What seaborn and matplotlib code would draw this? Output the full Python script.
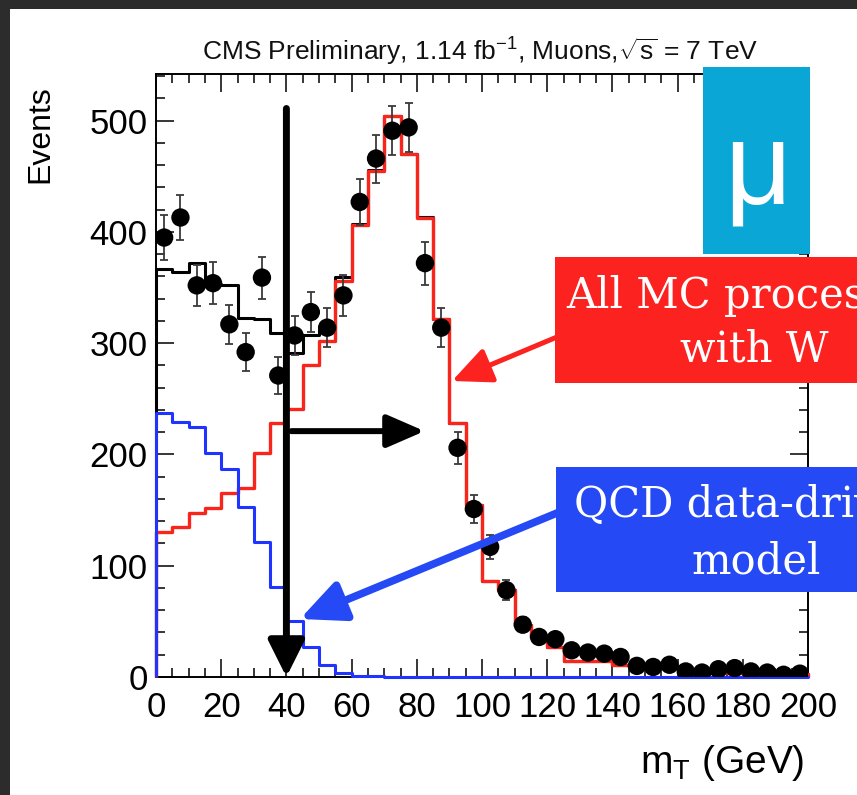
import numpy as np
import pandas as pd
import matplotlib
matplotlib.use("Agg")
import matplotlib.pyplot as plt
import seaborn as sns
from matplotlib.patches import Rectangle, FancyArrowPatch
from matplotlib.ticker import MultipleLocator

# ---- binning: 40 bins of 5 GeV in transverse mass ----
bin_width = 5
mt_range = (0, 200)
bin_centers = np.arange(mt_range[0], mt_range[1], bin_width) + bin_width / 2

# observed muon events per bin
data_events = [395, 413, 352, 354, 317, 292, 359, 271, 307, 328,
               314, 343, 427, 466, 491, 494, 372, 314, 206, 151,
               117, 78, 47, 36, 34, 24, 22, 21, 18, 10,
               9, 11, 5, 4, 7, 8, 5, 4, 2, 3]

# all MC processes with a W
w_mc = [130, 135, 147, 152, 165, 170, 201, 228, 241, 280,
        302, 356, 406, 455, 504, 470, 413, 322, 228, 155,
        86, 78, 47, 36, 27, 14, 14, 14, 11, 10,
        9, 8, 6, 5, 5, 4, 4, 3, 3, 3]

# QCD data-driven model
qcd_model = [237, 229, 225, 201, 187, 153, 121, 81, 50, 27,
             11, 3.5, 1, 0.5, 0.3, 0.2, 0.2, 0.1, 0.1, 0,
             0, 0, 0, 0, 0, 0, 0, 0, 0, 0,
             0, 0, 0, 0, 0, 0, 0, 0, 0, 0]

x_ticks = [0, 20, 40, 60, 80, 100, 120, 140, 160, 180, 200]
y_ticks = [0, 100, 200, 300, 400, 500]

RED = "#f7251c"
BLUE = "#2034ff"
BOX_RED = "#fc2220"
BOX_BLUE = "#2549f5"
BOX_CYAN = "#0aa6d6"
SLIDE = "#2c2c2c"

W, H = 857, 795

sns.set_theme(style="ticks")
plt.rcParams["font.family"] = ["Liberation Sans", "DejaVu Sans"]
plt.rcParams["mathtext.fontset"] = "custom"
plt.rcParams["mathtext.rm"] = "Liberation Sans"
plt.rcParams["mathtext.it"] = "Liberation Sans:italic"
plt.rcParams["mathtext.bf"] = "Liberation Sans:bold"


def px(x, y):
    """pixel position (from top-left) -> figure fraction"""
    return x / W, 1 - y / H


fig = plt.figure(figsize=(W / 100, H / 100), dpi=100, facecolor=SLIDE)

# white slide panel, behind everything else
fig.patches.append(Rectangle(px(10, H), (W - 10) / W, (H - 9) / H,
                             transform=fig.transFigure, facecolor="white",
                             edgecolor="none", zorder=-5))

l, b = px(156, 677)
r, t = px(808, 74)
ax = fig.add_axes([l, b, r - l, t - b])
ax.set_facecolor("white")

mc = np.asarray(w_mc, dtype=float)
qcd = np.asarray(qcd_model, dtype=float)
hists = pd.DataFrame({
    "mt": bin_centers,
    "mc": mc,
    "qcd": qcd,
    "total": mc + qcd,
})
points = pd.DataFrame({"mt": bin_centers, "events": data_events})
points["err"] = np.sqrt(points["events"])


def step_hist(col, color, lw, z):
    sns.histplot(data=hists, x="mt", weights=col, binwidth=bin_width,
                 binrange=mt_range, element="step", fill=False,
                 color=color, linewidth=lw, ax=ax)
    line = ax.lines[-1]
    line.set_zorder(z)
    line.set_clip_on(False)
    # close the outline down to the baseline at both ends
    vals = hists[col].to_numpy()
    ax.vlines([mt_range[0]], 0, vals[0], color=color, linewidth=lw,
              zorder=z, clip_on=False)
    ax.vlines([mt_range[1]], 0, vals[-1], color=color, linewidth=lw,
              zorder=z, clip_on=False)


step_hist("total", "black", 2.2, 3)
step_hist("qcd", BLUE, 2.2, 3.2)
step_hist("mc", RED, 2.4, 3.1)

ax.errorbar(points["mt"], points["events"], yerr=points["err"], fmt="none",
            ecolor="#3a3a3a", elinewidth=1.3, capsize=3, capthick=1.3, zorder=4)
sns.scatterplot(data=points, x="mt", y="events", color="black", s=175,
                edgecolor="none", zorder=5, ax=ax, legend=False)

ax.set_xlim(*mt_range)
ax.set_ylim(0, 542)
ax.set_xticks(x_ticks)
ax.set_yticks(y_ticks)
ax.set_xticklabels([str(v) for v in x_ticks])
ax.set_yticklabels([str(v) for v in y_ticks])
ax.xaxis.set_minor_locator(MultipleLocator(5))
ax.yaxis.set_minor_locator(MultipleLocator(20))
ax.tick_params(which="both", direction="in", top=True, right=True,
               colors="black", width=1.1)
ax.tick_params(which="major", length=13, labelsize=25)
ax.tick_params(which="minor", length=6.5)
ax.tick_params(axis="x", which="major", pad=10)
ax.tick_params(axis="y", which="major", pad=6)
for s in ax.spines.values():
    s.set_color("black")
    s.set_linewidth(1.4)
ax.set_xlabel("")
ax.set_ylabel("")

fig.text(*px(804, 763), r"m$_\mathrm{T}$ (GeV)", fontsize=28, ha="right",
         va="center", color="black")
fig.text(*px(40, 85), "Events", fontsize=23, rotation=90, ha="center",
         va="top", color="black")
fig.text(*px(480, 52),
         r"CMS Preliminary, 1.14 fb$^{\mathrm{-1}}$, Muons,$\sqrt{\mathrm{s}}$ = 7 TeV",
         fontsize=19, ha="center", va="center", color="#111111")

# cut at m_T = 40 GeV and the selected region
ax.annotate("", xy=(40, 0), xytext=(40, 511),
            arrowprops=dict(arrowstyle="-|>,head_length=2.2,head_width=1.1",
                            mutation_scale=10, color="black", lw=5,
                            shrinkA=0, shrinkB=0), zorder=6,
            annotation_clip=False)
ax.annotate("", xy=(82.4, 221), xytext=(41.5, 221),
            arrowprops=dict(arrowstyle="-|>,head_length=2.3,head_width=1.0",
                            mutation_scale=10, color="black", lw=4.3,
                            shrinkA=0, shrinkB=0), zorder=6)

# slide call-outs
fig.patches.append(Rectangle(px(703, 254), 107 / W, 187 / H,
                             transform=fig.transFigure, facecolor=BOX_CYAN,
                             edgecolor="none", zorder=10))
fig.text(*px(758, 203), "\u03bc", fontsize=84, color="white", ha="center",
         va="baseline", zorder=11)

fig.patches.append(Rectangle(px(555, 383), 320 / W, 126 / H,
                             transform=fig.transFigure, facecolor=BOX_RED,
                             edgecolor="none", zorder=10))
fig.text(*px(750, 308), "All MC processes", fontsize=30, family="DejaVu Serif",
         color="white", ha="center", va="baseline", zorder=11)
fig.text(*px(754, 362), "with W", fontsize=30, family="DejaVu Serif",
         color="white", ha="center", va="baseline", zorder=11)

fig.patches.append(Rectangle(px(556, 592), 320 / W, 125 / H,
                             transform=fig.transFigure, facecolor=BOX_BLUE,
                             edgecolor="none", zorder=10))
fig.text(*px(752, 517), "QCD data-driven", fontsize=30, family="DejaVu Serif",
         color="white", ha="center", va="baseline", zorder=11)
fig.text(*px(756, 573), "model", fontsize=30, family="DejaVu Serif",
         color="white", ha="center", va="baseline", zorder=11)

fig.patches.append(FancyArrowPatch(px(557, 337), px(452, 381),
                                   transform=fig.transFigure,
                                   arrowstyle="-|>,head_length=2.4,head_width=1.1",
                                   mutation_scale=10, color=BOX_RED, lw=3.6,
                                   shrinkA=0, shrinkB=0, zorder=9))
fig.patches.append(FancyArrowPatch(px(557, 513), px(300, 619),
                                   transform=fig.transFigure,
                                   arrowstyle="-|>,head_length=2.7,head_width=1.25",
                                   mutation_scale=10, color=BOX_BLUE, lw=5.5,
                                   shrinkA=0, shrinkB=0, zorder=9))

fig.savefig("out.png", dpi=100, facecolor=SLIDE)
